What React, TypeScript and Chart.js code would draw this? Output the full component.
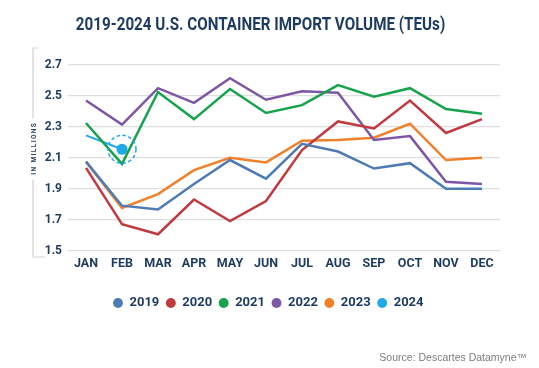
import React, { useEffect, useRef } from 'react';
import { Chart, registerables } from 'chart.js';

Chart.register(...registerables);

const TITLE = '2019-2024 U.S. CONTAINER IMPORT VOLUME (TEUs)';
const AXIS_TITLE = 'IN MILLIONS';
const SOURCE = 'Source: Descartes Datamyne™';

const months = ['JAN', 'FEB', 'MAR', 'APR', 'MAY', 'JUN', 'JUL', 'AUG', 'SEP', 'OCT', 'NOV', 'DEC'];
const yearLabels = ['2019', '2020', '2021', '2022', '2023', '2024'];

const v2019 = [2.075, 1.79, 1.765, 1.93, 2.085, 1.965, 2.19, 2.14, 2.03, 2.065, 1.9, 1.9];
const v2020 = [2.035, 1.67, 1.605, 1.83, 1.69, 1.82, 2.15, 2.335, 2.29, 2.47, 2.26, 2.35];
const v2021 = [2.325, 2.06, 2.525, 2.35, 2.545, 2.39, 2.44, 2.57, 2.495, 2.55, 2.415, 2.385];
const v2022 = [2.47, 2.315, 2.55, 2.455, 2.615, 2.475, 2.53, 2.52, 2.215, 2.24, 1.945, 1.93];
const v2023 = [2.075, 1.775, 1.865, 2.02, 2.1, 2.07, 2.21, 2.215, 2.23, 2.32, 2.085, 2.1];
const v2024 = [2.245, 2.155];

const yMin = 1.5;
const yMax = 2.7;
const yStep = 0.2;

const colors = ['#4f7bb5', '#c13a40', '#17a34c', '#7e57a4', '#f0812a', '#1fa9e8'];
const NAVY = '#1d3a5f';

const decor = {
  id: 'decor',
  beforeDraw(chart: any) {
    const ctx = chart.ctx;
    ctx.save();
    ctx.fillStyle = '#ffffff';
    ctx.fillRect(0, 0, chart.width, chart.height);
    // left bracket
    ctx.strokeStyle = '#d3d3d3';
    ctx.lineWidth = 1.2;
    ctx.beginPath();
    ctx.moveTo(38, 48);
    ctx.lineTo(33, 48);
    ctx.lineTo(33, 257);
    ctx.lineTo(45, 257);
    ctx.stroke();
    // axis title with white backing
    ctx.translate(34, 149);
    ctx.rotate(-Math.PI / 2);
    ctx.font = 'bold 6.5px Roboto';
    (ctx as any).letterSpacing = '1.4px';
    const w = ctx.measureText(AXIS_TITLE).width;
    ctx.fillStyle = '#ffffff';
    ctx.fillRect(-w / 2 - 4, -6, w + 8, 12);
    ctx.fillStyle = '#2b4467';
    ctx.textAlign = 'center';
    ctx.textBaseline = 'middle';
    ctx.fillText(AXIS_TITLE, 0.7, 0);
    ctx.restore();
  },
  afterDraw(chart: any) {
    const ctx = chart.ctx;
    // title
    ctx.save();
    ctx.translate(260.5, 25);
    ctx.scale(0.8, 1);
    ctx.font = 'bold 19px Roboto';
    ctx.fillStyle = NAVY;
    ctx.textAlign = 'center';
    ctx.textBaseline = 'middle';
    ctx.fillText(TITLE, 0, 0);
    ctx.restore();
    // ring around latest 2024 point
    const meta = chart.getDatasetMeta(5);
    const pt = meta.data[meta.data.length - 1];
    if (pt) {
      ctx.save();
      ctx.strokeStyle = colors[5];
      ctx.lineWidth = 1.5;
      ctx.setLineDash([3.5, 2.5]);
      ctx.beginPath();
      ctx.arc(pt.x, pt.y, 14, 0, Math.PI * 2);
      ctx.stroke();
      ctx.restore();
    }
    // source
    ctx.save();
    ctx.font = '10.5px "Liberation Sans"';
    ctx.fillStyle = '#7d7d7d';
    ctx.textAlign = 'right';
    ctx.textBaseline = 'alphabetic';
    ctx.fillText(SOURCE, 527, 361);
    ctx.restore();
  },
};

export default function App() {
  const ref = useRef<HTMLCanvasElement>(null);

  useEffect(() => {
    if (!ref.current) return;
    const series = [v2019, v2020, v2021, v2022, v2023, v2024];
    const chart = new Chart(ref.current, {
      type: 'line',
      data: {
        labels: months,
        datasets: series.map((d, i) => ({
          label: yearLabels[i],
          data: d,
          borderColor: colors[i],
          backgroundColor: colors[i],
          borderWidth: i === 5 ? 2 : 2.5,
          tension: 0,
          pointRadius: i === 5 ? d.map((_, j) => (j === d.length - 1 ? 5.5 : 0)) : 0,
          pointHoverRadius: 0,
          pointBorderWidth: 0,
          pointBackgroundColor: colors[i],
        })),
      },
      options: {
        responsive: false,
        animation: false,
        events: [],
        layout: { padding: { left: 36.5, right: 39, top: 65, bottom: 48.5 } },
        plugins: {
          title: { display: false },
          tooltip: { enabled: false },
          legend: {
            position: 'bottom',
            labels: {
              usePointStyle: true,
              boxWidth: 10,
              boxHeight: 7,
              padding: 6.5,
              color: NAVY,
              font: { family: 'Roboto', weight: 'bold', size: 13 },
              generateLabels: (c: any) =>
                Chart.defaults.plugins.legend.labels
                  .generateLabels(c)
                  .map((l: any) => ({ ...l, lineWidth: 0, pointStyle: 'circle' })),
            },
          },
        },
        scales: {
          x: {
            offset: true,
            grid: { display: false, drawTicks: false },
            border: { display: false },
            ticks: {
              color: NAVY,
              padding: 6,
              maxRotation: 0,
              autoSkip: false,
              font: { family: 'Roboto', weight: 'bold', size: 12.5 },
            },
            afterFit: (s: any) => {
              s.height = 39.5;
            },
          },
          y: {
            min: yMin,
            max: yMax,
            grid: { color: '#dedede', lineWidth: 1.2, drawTicks: false },
            border: { display: false },
            ticks: {
              stepSize: yStep,
              color: NAVY,
              padding: 6,
              font: { family: 'Roboto', weight: 'bold', size: 12 },
              callback: (v: any) => Number(v).toFixed(1),
            },
            afterFit: (s: any) => {
              s.width = 31.5;
            },
          },
        },
      },
      plugins: [decor],
    });
    return () => chart.destroy();
  }, []);

  return (
    <div style={{ position: 'absolute', left: 0, top: 0, width: 539, height: 368, background: '#fff' }}>
      <canvas ref={ref} width={539} height={368} style={{ display: 'block' }} />
    </div>
  );
}
